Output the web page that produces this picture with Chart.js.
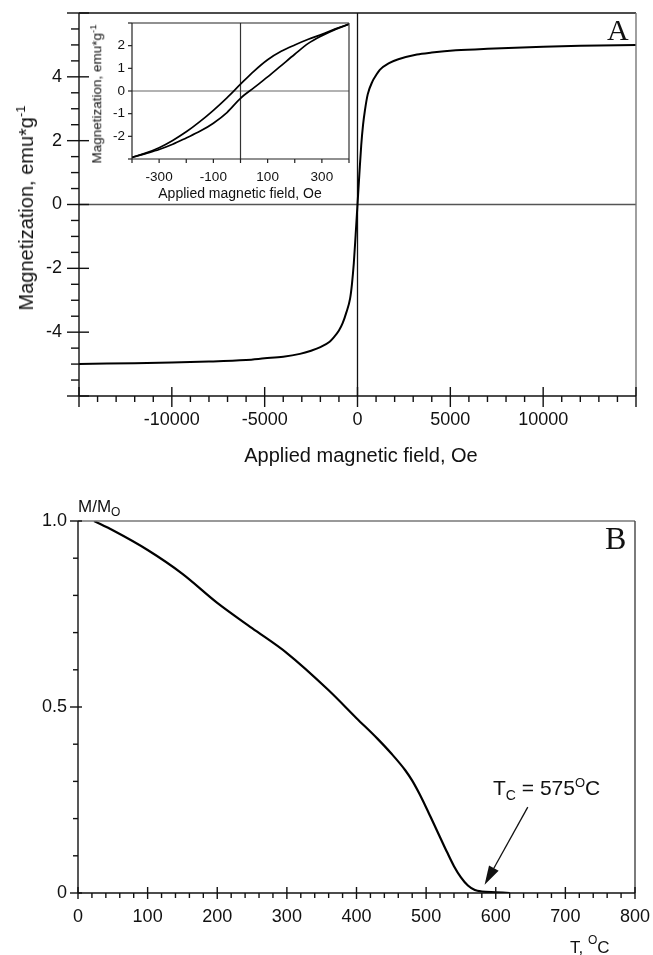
<!DOCTYPE html>
<html>
<head>
<meta charset="utf-8">
<script src="https://cdn.jsdelivr.net/npm/chart.js@4.4.0/dist/chart.umd.min.js"></script>
<style>
  html, body { margin: 0; padding: 0; background: #fff; }
  #page { position: relative; width: 653px; height: 955px; overflow: hidden; font-family: 'Liberation Sans', Arial, sans-serif; color: #111; }
  canvas { position: absolute; left: 0; }
  .lbl { position: absolute; white-space: nowrap; line-height: 1; }
  .rot { transform: translate(-50%, -50%) rotate(-90deg); }
  .ctr { transform: translate(-50%, -50%); }
  .serif { font-family: 'Liberation Serif', 'Times New Roman', serif; }
  .shift { position: relative; }
</style>
</head>
<body>
<div id="page">
  <canvas id="chartA" width="653" height="470" style="top:0"></canvas>
  <canvas id="chartInset" width="653" height="210" style="top:0"></canvas>
  <canvas id="chartB" width="653" height="485" style="top:470px"></canvas>

  <div class="lbl rot" style="left:26px;top:208px;font-size:20px">Magnetization, emu*g<span class="shift" style="font-size:13px;top:-8px">-1</span></div>
  <div class="lbl ctr" style="left:361px;top:455px;font-size:20px">Applied magnetic field, Oe</div>
  <div class="lbl serif" style="left:607px;top:15px;font-size:30px">A</div>

  <div class="lbl rot" style="left:97px;top:94px;font-size:13.5px">Magnetization, emu*g<span class="shift" style="font-size:9.5px;top:-5px">-1</span></div>
  <div class="lbl ctr" style="left:240px;top:193px;font-size:14px">Applied magnetic field, Oe</div>

  <div class="lbl" style="left:78px;top:498px;font-size:17px">M/M<span class="shift" style="font-size:12px;top:4px">O</span></div>
  <div class="lbl serif" style="left:605px;top:522px;font-size:32px">B</div>
  <div class="lbl" style="left:493px;top:777px;font-size:21px">T<span class="shift" style="font-size:14px;top:5px">C</span> = 575<span class="shift" style="font-size:13px;top:-8px">O</span>C</div>
  <div class="lbl" style="left:570px;top:939px;font-size:17px">T, <span class="shift" style="font-size:12px;top:-9px">O</span>C</div>
</div>

<script>
// panel A: hysteresis loop over the full field range (Oe, emu/g)
const fieldA = [-15000, -12000, -10000, -8000, -6000, -5000, -4000, -3100, -2500, -2000,
    -1500, -1300, -1000, -800, -600, -400, -300, -200, -100, 0,
    100, 200, 300, 400, 550, 800, 1000, 1200, 1700, 2200,
    3200, 4000, 5300, 7000, 10000, 12000, 15000];
const magA = [-5.0, -4.97, -4.95, -4.92, -4.87, -4.82, -4.77, -4.68, -4.58, -4.47,
    -4.3, -4.18, -3.95, -3.72, -3.38, -2.95, -2.5, -1.85, -0.95, 0,
    0.95, 1.85, 2.5, 2.95, 3.45, 3.85, 4.05, 4.22, 4.43, 4.55,
    4.7, 4.76, 4.83, 4.88, 4.94, 4.97, 5.0];

// inset: low-field part of the loop, both branches
const fieldLoop = [-400, -350, -300, -250, -200, -150, -100, -50, 0, 50, 100, 150, 200, 250, 300, 350, 400];
const magDown = [-2.93, -2.74, -2.5, -2.18, -1.8, -1.35, -0.85, -0.3, 0.3, 0.88, 1.38, 1.75, 2.03, 2.28, 2.5, 2.74, 2.95];
const magUp = [-2.93, -2.76, -2.58, -2.35, -2.07, -1.78, -1.42, -0.95, -0.32, 0.15, 0.62, 1.12, 1.62, 2.1, 2.44, 2.72, 2.95];

// panel B: thermomagnetic curve (deg C, M/Mo)
const tempB = [23, 50, 100, 150, 200, 250, 300, 360, 400, 430,
    450, 470, 480, 490, 500, 510, 520, 530, 540, 550,
    560, 570, 580, 600, 620];
const ratioB = [1.0, 0.975, 0.922, 0.858, 0.78, 0.712, 0.645, 0.545, 0.47, 0.415,
    0.375, 0.33, 0.302, 0.268, 0.23, 0.19, 0.15, 0.11, 0.072, 0.042,
    0.02, 0.008, 0.004, 0.002, 0.0];

// Curie point arrow: from label to curve
const arrowFrom = [646, 0.231];
const arrowTo = [584, 0.022];

Chart.defaults.font.family = "'Liberation Sans', Arial, sans-serif";
Chart.defaults.color = '#111';

function isMultiple(v, m) {
    const r = v / m;
    return Math.abs(r - Math.round(r)) < 1e-6;
}

function line(ctx, x1, y1, x2, y2, color) {
    ctx.strokeStyle = color;
    ctx.beginPath();
    ctx.moveTo(x1, y1);
    ctx.lineTo(x2, y2);
    ctx.stroke();
}

// frame, zero lines and the minor/major tick marks
const frameTicks = {
    id: 'frameTicks',
    beforeDatasetsDraw(chart, args, o) {
        const ctx = chart.ctx, a = chart.chartArea;
        const x = chart.scales.x, y = chart.scales.y;
        ctx.save();
        ctx.lineWidth = o.zeroWidth;
        if (o.zeroY) {
            const py = y.getPixelForValue(0);
            line(ctx, a.left, py, a.right, py, o.zeroY);
        }
        if (o.zeroX) {
            const px = x.getPixelForValue(0);
            line(ctx, px, a.top, px, a.bottom, o.zeroX);
        }
        ctx.restore();
    },
    afterDatasetsDraw(chart, args, o) {
        const ctx = chart.ctx, a = chart.chartArea;
        const x = chart.scales.x, y = chart.scales.y;
        ctx.save();
        ctx.lineWidth = o.width;
        line(ctx, a.left, a.top, a.right, a.top, o.topColor);
        line(ctx, a.right, a.top, a.right, a.bottom, o.rightColor);
        line(ctx, a.left, a.bottom, a.right, a.bottom, o.axisColor);
        line(ctx, a.left, a.top, a.left, a.bottom, o.axisColor);

        const nx = Math.round((x.max - x.min) / o.xStep);
        for (let i = 0; i <= nx; i++) {
            const v = x.min + i * o.xStep;
            const px = x.getPixelForValue(v);
            const major = isMultiple(v, o.xMajor);
            line(ctx, px, a.bottom - (major ? o.xMajorIn : 0), px, a.bottom + (major ? o.xMajorOut : o.xMinorOut), o.axisColor);
        }
        const ny = Math.round((y.max - y.min) / o.yStep);
        for (let j = 0; j <= ny; j++) {
            const v = y.min + j * o.yStep;
            const py = y.getPixelForValue(v);
            const major = isMultiple(v, o.yMajor);
            line(ctx, a.left - (major ? o.yMajorOut : o.yMinorOut), py, a.left + (major ? o.yMajorIn : 0), py, o.axisColor);
        }
        ctx.restore();
    }
};

const arrowNote = {
    id: 'arrowNote',
    afterDatasetsDraw(chart, args, o) {
        if (!o.from) return;
        const ctx = chart.ctx, x = chart.scales.x, y = chart.scales.y;
        const x1 = x.getPixelForValue(o.from[0]), y1 = y.getPixelForValue(o.from[1]);
        const x2 = x.getPixelForValue(o.to[0]), y2 = y.getPixelForValue(o.to[1]);
        const ang = Math.atan2(y2 - y1, x2 - x1);
        const len = 19, half = 5.5;
        const bx = x2 - len * Math.cos(ang), by = y2 - len * Math.sin(ang);
        ctx.save();
        ctx.lineWidth = 1.3;
        line(ctx, x1, y1, bx, by, '#111');
        ctx.fillStyle = '#111';
        ctx.beginPath();
        ctx.moveTo(x2, y2);
        ctx.lineTo(bx + half * Math.sin(ang), by - half * Math.cos(ang));
        ctx.lineTo(bx - half * Math.sin(ang), by + half * Math.cos(ang));
        ctx.closePath();
        ctx.fill();
        ctx.restore();
    }
};

function series(xs, ys) {
    return xs.map(function (v, i) { return { x: v, y: ys[i] }; });
}

function curve(xs, ys, width) {
    return {
        data: series(xs, ys),
        borderColor: '#000',
        borderWidth: width,
        pointRadius: 0,
        fill: false,
        cubicInterpolationMode: 'monotone'
    };
}

// fixed axis boxes so the plot area lands where it is in the figure
function pinScale(s, prop, size) {
    s[prop] = size;
    s.paddingTop = 0;
    s.paddingBottom = 0;
    s.paddingLeft = 0;
    s.paddingRight = 0;
}

function buildOptions(box, canvasHeight, xs, ys, marks, note) {
    return {
        responsive: false,
        animation: false,
        events: [],
        layout: { padding: { top: box.top, right: 653 - box.right, left: 0, bottom: 0 } },
        plugins: {
            legend: { display: false },
            tooltip: { enabled: false },
            frameTicks: marks,
            arrowNote: note || {}
        },
        scales: {
            x: {
                type: 'linear',
                min: xs.min,
                max: xs.max,
                grid: { display: false, drawTicks: false },
                border: { display: false },
                ticks: { stepSize: xs.step, autoSkip: false, maxRotation: 0, padding: xs.pad, font: { size: xs.size }, color: '#111', callback: xs.label },
                afterFit: function (s) { pinScale(s, 'height', canvasHeight - box.bottom); }
            },
            y: {
                type: 'linear',
                min: ys.min,
                max: ys.max,
                grid: { display: false, drawTicks: false },
                border: { display: false },
                ticks: { stepSize: ys.step, autoSkip: false, padding: ys.pad, font: { size: ys.size }, color: '#111', callback: ys.label },
                afterFit: function (s) { pinScale(s, 'width', box.left); }
            }
        }
    };
}

new Chart(document.getElementById('chartA'), {
    type: 'line',
    data: { datasets: [curve(fieldA, magA, 2)] },
    plugins: [frameTicks],
    options: buildOptions(
        { left: 79, top: 13, right: 636, bottom: 396 }, 470,
        { min: -15000, max: 15000, step: 5000, pad: 13, size: 18,
          label: function (v) { return Math.abs(v) < 15000 ? String(v) : ''; } },
        { min: -6, max: 6, step: 2, pad: 17, size: 18,
          label: function (v) { return Math.abs(v) < 6 ? String(v) : ''; } },
        { width: 1.4, zeroWidth: 1.3, axisColor: '#111', topColor: '#111', rightColor: '#777',
          zeroX: '#111', zeroY: '#555',
          xStep: 1000, xMajor: 5000, xMinorOut: 6, xMajorIn: 9, xMajorOut: 11,
          yStep: 0.5, yMajor: 2, yMinorOut: 8, yMajorIn: 10, yMajorOut: 12 }
    )
});

new Chart(document.getElementById('chartInset'), {
    type: 'line',
    data: { datasets: [curve(fieldLoop, magDown, 1.7), curve(fieldLoop, magUp, 1.7)] },
    plugins: [frameTicks],
    options: buildOptions(
        { left: 132, top: 23, right: 349, bottom: 159 }, 210,
        { min: -400, max: 400, step: 100, pad: 10, size: 13.5,
          label: function (v) { return isMultiple(v, 200) ? '' : String(v); } },
        { min: -3, max: 3, step: 1, pad: 7, size: 13.5,
          label: function (v) { return Math.abs(v) < 3 ? String(v) : ''; } },
        { width: 1.2, zeroWidth: 1.2, axisColor: '#222', topColor: '#222', rightColor: '#333',
          zeroX: '#333', zeroY: '#666',
          xStep: 100, xMajor: 100, xMinorOut: 4, xMajorIn: 0, xMajorOut: 4,
          yStep: 1, yMajor: 1, yMinorOut: 4, yMajorIn: 0, yMajorOut: 4 }
    )
});

new Chart(document.getElementById('chartB'), {
    type: 'line',
    data: { datasets: [curve(tempB, ratioB, 2.2)] },
    plugins: [frameTicks, arrowNote],
    options: buildOptions(
        { left: 78, top: 51, right: 635, bottom: 423 }, 485,
        { min: 0, max: 800, step: 100, pad: 13, size: 18,
          label: function (v) { return String(v); } },
        { min: 0, max: 1, step: 0.5, pad: 11, size: 18,
          label: function (v) { return v === 0 ? '0' : v.toFixed(1); } },
        { width: 1.4, zeroWidth: 1.2, axisColor: '#111', topColor: '#777', rightColor: '#444',
          zeroX: null, zeroY: null,
          xStep: 20, xMajor: 100, xMinorOut: 5, xMajorIn: 6, xMajorOut: 6,
          yStep: 0.1, yMajor: 0.5, yMinorOut: 5, yMajorIn: 4, yMajorOut: 8 },
        { from: arrowFrom, to: arrowTo }
    )
});
</script>
</body>
</html>
